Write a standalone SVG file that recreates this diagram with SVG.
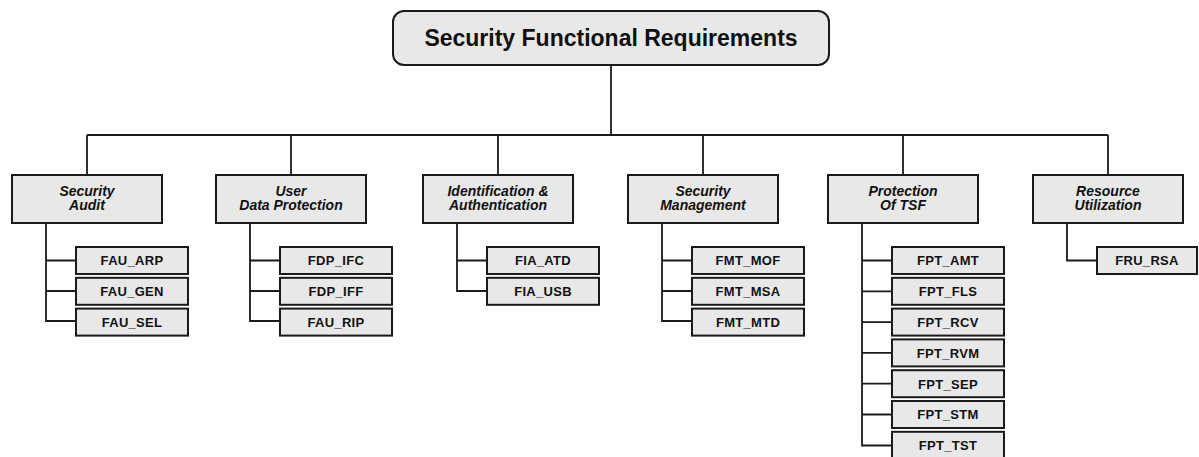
<svg xmlns="http://www.w3.org/2000/svg" width="1199" height="457" viewBox="0 0 1199 457">
  <style>
    .box { fill: #e8e8e8; stroke: #1a1a1a; stroke-width: 2; }
    .wire { fill: none; stroke: #1a1a1a; stroke-width: 1.8; }
    .title { font-family: "Liberation Sans", Arial, sans-serif; font-weight: bold; font-size: 23px; fill: #111; text-anchor: middle; }
    .cat { font-family: "Liberation Sans", Arial, sans-serif; font-weight: bold; font-style: italic; font-size: 14px; fill: #111; text-anchor: middle; }
    .req { font-family: "Liberation Sans", Arial, sans-serif; font-weight: bold; font-size: 13px; letter-spacing: 0.3px; fill: #111; text-anchor: middle; }
  </style>

  <!-- connectors -->
  <g id="connectors" class="wire">
    <!-- root to bus -->
    <path d="M611 65 V135"/>
    <path d="M87 135 H1108"/>
    <!-- bus to categories -->
    <path d="M87 135 V175"/>
    <path d="M291 135 V175"/>
    <path d="M498 135 V175"/>
    <path d="M703 135 V175"/>
    <path d="M903 135 V175"/>
    <path d="M1108 135 V175"/>
    <!-- Security Audit children -->
    <path d="M46 223 V321 H76 M46 260.5 H76 M46 291 H76"/>
    <!-- User Data Protection children -->
    <path d="M250 223 V321 H280 M250 260.5 H280 M250 291 H280"/>
    <!-- Identification & Authentication children -->
    <path d="M457 223 V291 H487 M457 260.5 H487"/>
    <!-- Security Management children -->
    <path d="M662 223 V321 H692 M662 260.5 H692 M662 291 H692"/>
    <!-- Protection Of TSF children -->
    <path d="M862 223 V445.5 H892 M862 260.5 H892 M862 291.3 H892 M862 322.1 H892 M862 352.9 H892 M862 383.7 H892 M862 414.5 H892"/>
    <!-- Resource Utilization children -->
    <path d="M1067 223 V260.5 H1097"/>
  </g>

  <!-- root -->
  <g id="root">
    <rect class="box" x="393" y="11" width="436" height="54" rx="11"/>
    <text class="title" x="611" y="46">Security Functional Requirements</text>
  </g>

  <!-- categories -->
  <g id="cat-fau">
    <rect class="box" x="12" y="175" width="150" height="48"/>
    <text class="cat" x="87" y="195.5">Security</text>
    <text class="cat" x="87" y="210">Audit</text>
  </g>
  <g id="cat-fdp">
    <rect class="box" x="216" y="175" width="150" height="48"/>
    <text class="cat" x="291" y="195.5">User</text>
    <text class="cat" x="291" y="210">Data Protection</text>
  </g>
  <g id="cat-fia">
    <rect class="box" x="423" y="175" width="150" height="48"/>
    <text class="cat" x="498" y="195.5">Identification &amp;</text>
    <text class="cat" x="498" y="210">Authentication</text>
  </g>
  <g id="cat-fmt">
    <rect class="box" x="628" y="175" width="150" height="48"/>
    <text class="cat" x="703" y="195.5">Security</text>
    <text class="cat" x="703" y="210">Management</text>
  </g>
  <g id="cat-fpt">
    <rect class="box" x="828" y="175" width="150" height="48"/>
    <text class="cat" x="903" y="195.5">Protection</text>
    <text class="cat" x="903" y="210">Of TSF</text>
  </g>
  <g id="cat-fru">
    <rect class="box" x="1033" y="175" width="150" height="48"/>
    <text class="cat" x="1108" y="195.5">Resource</text>
    <text class="cat" x="1108" y="210">Utilization</text>
  </g>

  <!-- Security Audit families -->
  <g id="fau-arp"><rect class="box" x="76" y="247" width="112" height="27"/><text class="req" x="132" y="265.3">FAU_ARP</text></g>
  <g id="fau-gen"><rect class="box" x="76" y="277.8" width="112" height="27"/><text class="req" x="132" y="296.1">FAU_GEN</text></g>
  <g id="fau-sel"><rect class="box" x="76" y="308.6" width="112" height="27"/><text class="req" x="132" y="326.9">FAU_SEL</text></g>

  <!-- User Data Protection families -->
  <g id="fdp-ifc"><rect class="box" x="280" y="247" width="112" height="27"/><text class="req" x="336" y="265.3">FDP_IFC</text></g>
  <g id="fdp-iff"><rect class="box" x="280" y="277.8" width="112" height="27"/><text class="req" x="336" y="296.1">FDP_IFF</text></g>
  <g id="fau-rip"><rect class="box" x="280" y="308.6" width="112" height="27"/><text class="req" x="336" y="326.9">FAU_RIP</text></g>

  <!-- Identification & Authentication families -->
  <g id="fia-atd"><rect class="box" x="487" y="247" width="112" height="27"/><text class="req" x="543" y="265.3">FIA_ATD</text></g>
  <g id="fia-usb"><rect class="box" x="487" y="277.8" width="112" height="27"/><text class="req" x="543" y="296.1">FIA_USB</text></g>

  <!-- Security Management families -->
  <g id="fmt-mof"><rect class="box" x="692" y="247" width="112" height="27"/><text class="req" x="748" y="265.3">FMT_MOF</text></g>
  <g id="fmt-msa"><rect class="box" x="692" y="277.8" width="112" height="27"/><text class="req" x="748" y="296.1">FMT_MSA</text></g>
  <g id="fmt-mtd"><rect class="box" x="692" y="308.6" width="112" height="27"/><text class="req" x="748" y="326.9">FMT_MTD</text></g>

  <!-- Protection Of TSF families -->
  <g id="fpt-amt"><rect class="box" x="892" y="247" width="112" height="27"/><text class="req" x="948" y="265.3">FPT_AMT</text></g>
  <g id="fpt-fls"><rect class="box" x="892" y="277.8" width="112" height="27"/><text class="req" x="948" y="296.1">FPT_FLS</text></g>
  <g id="fpt-rcv"><rect class="box" x="892" y="308.6" width="112" height="27"/><text class="req" x="948" y="326.9">FPT_RCV</text></g>
  <g id="fpt-rvm"><rect class="box" x="892" y="339.4" width="112" height="27"/><text class="req" x="948" y="357.7">FPT_RVM</text></g>
  <g id="fpt-sep"><rect class="box" x="892" y="370.2" width="112" height="27"/><text class="req" x="948" y="388.5">FPT_SEP</text></g>
  <g id="fpt-stm"><rect class="box" x="892" y="401" width="112" height="27"/><text class="req" x="948" y="419.3">FPT_STM</text></g>
  <g id="fpt-tst"><rect class="box" x="892" y="431.8" width="112" height="27"/><text class="req" x="948" y="450.1">FPT_TST</text></g>

  <!-- Resource Utilization families -->
  <g id="fru-rsa"><rect class="box" x="1097" y="247" width="100" height="27"/><text class="req" x="1147" y="265.3">FRU_RSA</text></g>
</svg>
